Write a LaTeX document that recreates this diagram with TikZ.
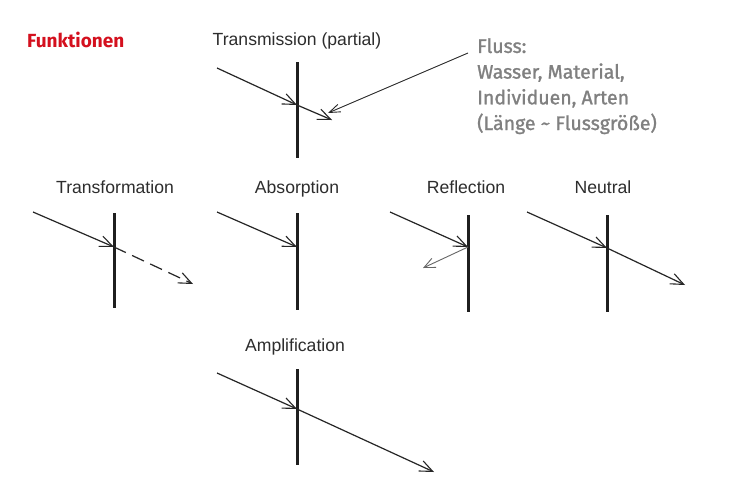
\documentclass[tikz,border=0pt]{standalone}
\usepackage{fontspec}
\setmainfont{Liberation Sans}
\newfontfamily\fira{Fira Sans}
\newfontfamily\firamed[FakeBold=1.3]{Fira Sans}
\usetikzlibrary{arrows.meta}
\definecolor{titlered}{RGB}{212,16,30}
\definecolor{flussgray}{RGB}{128,128,128}
\definecolor{labelgray}{RGB}{45,45,45}
\begin{document}
\begin{tikzpicture}[x=1pt,y=-1pt,
  lbl/.style={font=\fontsize{17.6}{20}\selectfont, text=labelgray, inner sep=0pt, anchor=base},
  bar/.style={line width=3pt, draw=black!88},
  flow/.style={line width=1.2pt, draw=black!85, -{Straight Barb[length=13pt,width=11pt,line width=1.1pt]}},
  thinflow/.style={line width=0.9pt, draw=black!60, -{Straight Barb[length=11pt,width=10pt,line width=0.9pt]}},
  pointer/.style={line width=0.9pt, draw=black!85, -{Straight Barb[length=11pt,width=8pt,line width=0.9pt]}}]
\useasboundingbox[fill=white] (0,0) rectangle (730,485);

% title
\node[anchor=base west, inner sep=0pt, text=titlered, font=\fira\bfseries\fontsize{19}{22}\selectfont] (title) at (27,47) {Funktionen};

% Transmission
\node[lbl] (ltrans) at (297,45) {Transmission (partial)};
\coordinate (t1) at (297,62); \coordinate (t2) at (297,158);
\coordinate (ts) at (217,68); \coordinate (tx) at (297,105); \coordinate (te) at (332,120);
\draw[bar] (t1) -- (t2);
\draw[flow] (ts) -- (tx);
\draw[flow] (tx) -- (te);

% Fluss note (anchor on the baseline of the last line)
\node[anchor=base west, align=left, inner sep=0pt, text=flussgray,
  font=\firamed\fontsize{19.5}{25.7}\selectfont] (fluss) at (477,130)
  {Fluss:\\Wasser, Material,\\Individuen, Arten\\(Länge \textasciitilde{} Flussgröße)};
\coordinate (fp) at (468,53); \coordinate (fq) at (328,113);
\draw[pointer] (fp) -- (fq);

% Transformation
\node[lbl] (ltf) at (115,193) {Transformation};
\coordinate (a1) at (114,213); \coordinate (a2) at (114,308);
\coordinate (as) at (33,212); \coordinate (ax) at (114,247); \coordinate (ae) at (193,284);
\draw[bar] (a1) -- (a2);
\draw[flow] (as) -- (ax);
\draw[flow, dash pattern=on 13pt off 7pt] (ax) -- (ae);

% Absorption
\node[lbl] (labs) at (297,193) {Absorption};
\coordinate (b1) at (297,213); \coordinate (b2) at (297,310);
\coordinate (bs) at (217,212); \coordinate (bx) at (297,247);
\draw[bar] (b1) -- (b2);
\draw[flow] (bs) -- (bx);

% Reflection
\node[lbl] (lref) at (466,193) {Reflection};
\coordinate (c1) at (468,215); \coordinate (c2) at (468,312);
\coordinate (cs) at (390,212); \coordinate (cx) at (468,247); \coordinate (ce) at (423,268);
\draw[bar] (c1) -- (c2);
\draw[flow] (cs) -- (cx);
\draw[thinflow] (cx) -- (ce);

% Neutral
\node[lbl] (lneu) at (603,193) {Neutral};
\coordinate (d1) at (607,215); \coordinate (d2) at (607,312);
\coordinate (ds) at (527,212); \coordinate (dx) at (607,248); \coordinate (de) at (685,285);
\draw[bar] (d1) -- (d2);
\draw[flow] (ds) -- (dx);
\draw[flow] (dx) -- (de);

% Amplification
\node[lbl] (lamp) at (295,351) {Amplification};
\coordinate (e1) at (297,369); \coordinate (e2) at (297,465);
\coordinate (es) at (217,373); \coordinate (ex) at (297,409); \coordinate (ee) at (434,472);
\draw[bar] (e1) -- (e2);
\draw[flow] (es) -- (ex);
\draw[flow] (ex) -- (ee);
\end{tikzpicture}
\end{document}
